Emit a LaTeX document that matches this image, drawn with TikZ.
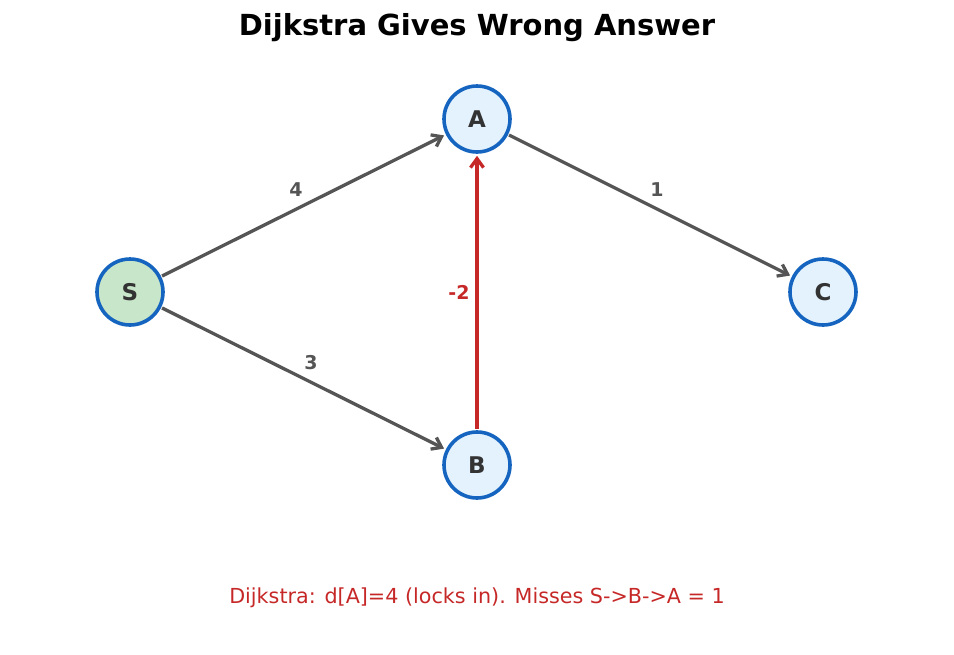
\documentclass[tikz,border=0pt]{standalone}
\usepackage{fontspec}
\setmainfont{DejaVu Sans}
\usetikzlibrary{arrows.meta}
\definecolor{nodefill}{HTML}{E3F2FD}
\definecolor{startfill}{HTML}{C8E6C9}
\definecolor{nodeline}{HTML}{1565C0}
\definecolor{edgegray}{HTML}{555555}
\definecolor{negred}{HTML}{C62828}
\definecolor{labeltext}{HTML}{333333}
\begin{document}
\begin{tikzpicture}[x=1pt,y=-1pt]
\tikzstyle{vertex} = [circle,minimum size=66pt,inner sep=0,draw=nodeline,line width=3.6pt,fill=nodefill,text=labeltext,font=\bfseries\fontsize{23}{27}\selectfont];
\tikzstyle{wedge} = [-{Straight Barb[length=9pt,width=13pt]},line width=3.3pt,draw=edgegray,shorten >=2pt,shorten <=1pt];
\tikzstyle{wlabel} = [text=edgegray,font=\bfseries\fontsize{19}{22}\selectfont];

\useasboundingbox (0,0) rectangle (954,654);

\node[font=\bfseries\fontsize{29}{34}\selectfont] (title) at (477,28) {Dijkstra Gives Wrong Answer};

\node[vertex,fill=startfill] (S) at (130,292) {S};
\node[vertex] (A) at (477,119) {A};
\node[vertex] (B) at (477,465) {B};
\node[vertex] (C) at (823,292) {C};

\draw[wedge] (S) -- (A);
\draw[wedge] (S) -- (B);
\draw[wedge] (A) -- (C);
\draw[wedge,draw=negred] (B) -- (A);

\node[wlabel] (w4) at (296,190) {4};
\node[wlabel] (w3) at (311,363) {3};
\node[wlabel] (w1) at (657,190) {1};
\node[wlabel,text=negred] (w2) at (459,292) {-2};

\node[text=negred,font=\fontsize{20.7}{24}\selectfont] (note) at (477,598) {Dijkstra: d[A]=4 (locks in). Misses S->B->A = 1};
\end{tikzpicture}
\end{document}
